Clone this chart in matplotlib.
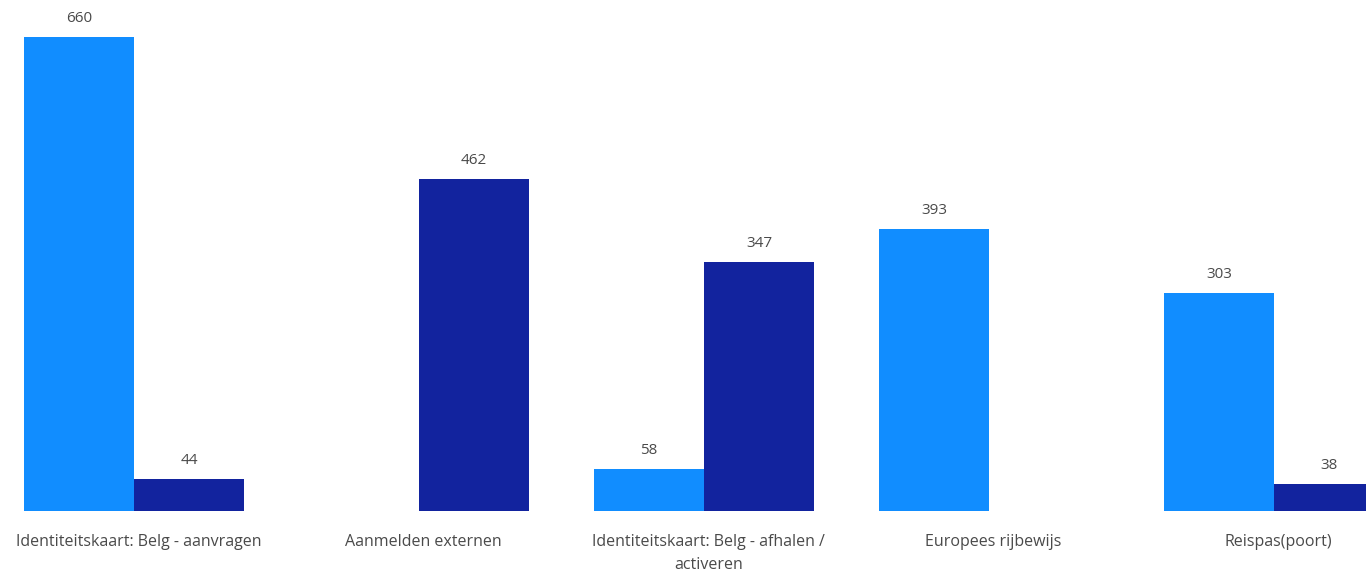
import numpy as np
import matplotlib
matplotlib.use("Agg")
import matplotlib.pyplot as plt

plt.rcParams['font.family'] = ['Open Sans', 'DejaVu Sans']

categories = [
    "Identiteitskaart: Belg - aanvragen",
    "Aanmelden externen",
    "Identiteitskaart: Belg - afhalen /\nactiveren",
    "Europees rijbewijs",
    "Reispas(poort)",
]
series_a = [660, None, 58, 393, 303]
series_b = [44, 462, 347, None, 38]

color_a = "#118DFF"
color_b = "#12239E"
text_color = "#4a4a4a"

fig = plt.figure(figsize=(13.66, 5.71), dpi=100)
ax = fig.add_axes([0, 60 / 571, 1, 511 / 571])

x = np.arange(len(categories))
w = 110 / 285

for vals, off, col in [(series_a, -w / 2, color_a), (series_b, w / 2, color_b)]:
    for xi, v in zip(x, vals):
        if v is None:
            continue
        ax.bar(xi + off, v, width=w, color=col, linewidth=0)
        ax.annotate(str(v), (xi + off, v), xytext=(0, 8), textcoords="offset points",
                    ha="center", va="bottom", fontsize=11, color=text_color)

ax.set_xlim(-134 / 285, (1366 - 134) / 285)
ax.set_ylim(0, 711.6)
ax.set_xticks(x + 0.015)
ax.set_xticklabels(categories, fontsize=11.5, color=text_color, linespacing=1.55)
ax.tick_params(axis="x", length=0, pad=16.5)
ax.set_yticks([])
for s in ax.spines.values():
    s.set_visible(False)

fig.savefig("out.png", dpi=100)
